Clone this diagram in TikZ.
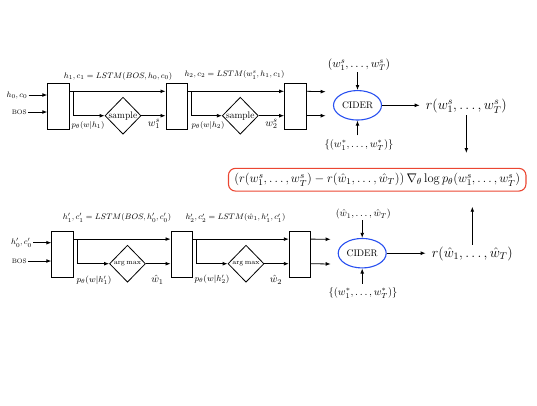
\documentclass[tikz,border=0pt]{standalone}
\usepackage{fix-cm}
\usepackage{amsmath}
\usetikzlibrary{shapes.geometric,arrows.meta,calc}
\definecolor{cblue}{RGB}{40,80,240}
\definecolor{cred}{RGB}{235,70,50}
\tikzset{
  blk/.style={draw, line width=0.8pt, minimum width=21.5pt, minimum height=46pt, inner sep=0pt},
  dia/.style={draw, diamond, line width=0.8pt, minimum width=36pt, minimum height=37pt, inner sep=0pt},
  arr/.style={-{Latex[length=5pt,width=3.8pt]}, line width=0.8pt},
  sm/.style={font=\fontsize{8}{9}\selectfont, inner sep=1pt},
  smp/.style={font=\fontsize{8.6}{10}\selectfont, inner sep=1pt},
  tiny7/.style={font=\fontsize{6.5}{8}\selectfont, inner sep=1pt},
  mid/.style={font=\fontsize{10.5}{12}\selectfont, inner sep=1pt},
  big/.style={font=\fontsize{14}{16}\selectfont, inner sep=2pt},
  cider/.style={draw=cblue, ellipse, line width=1.1pt, minimum width=48pt, minimum height=29.5pt, inner sep=0pt, font=\fontsize{9.5}{11}\selectfont},
  objbox/.style={draw=cred, rounded corners=7pt, line width=1.1pt, minimum width=297.5pt, minimum height=22.7pt, inner sep=0pt, font=\fontsize{12.5}{14}\selectfont},
}
\begin{document}
\begin{tikzpicture}[x=1pt,y=-1pt]
\useasboundingbox (0,0) rectangle (537,405);

% ---------- top row ----------
\node[blk] (b1) at (58.5,106.3) {};
\node[blk] (b2) at (176.7,106.3) {};
\node[blk] (b3) at (295.3,106.3) {};
\node[dia, label={center:\fontsize{9.5}{11}\selectfont sample}] (d1) at (123,115.7) {};
\node[dia, label={center:\fontsize{9.5}{11}\selectfont sample}] (d2) at (240.3,115.7) {};

\node[sm, anchor=east] (h0) at (28.5,95) {$h_0,c_0$};
\node[tiny7, anchor=east] (bos1) at (28,112) {BOS};
\draw[arr] (h0.east) -- (h0.east -| b1.west);
\draw[arr] (bos1.east) -- (bos1.east -| b1.west);

\node[sm] (t1) at (118,76) {$h_1,c_1=LSTM(BOS,h_0,c_0)$};
\node[sm] (t2) at (234.5,75) {$h_2,c_2=LSTM(w_1^s,h_1,c_1)$};

\draw[arr] ([yshift=-8.4pt]b1.north east) -- ([yshift=-8.4pt]b2.north west);
\draw[arr] ([xshift=3.5pt,yshift=-8.4pt]b1.north east) |- (d1.west);
\draw[arr] (d1.east) -- (d1.east -| b2.west);
\draw[arr] ([yshift=-8.4pt]b2.north east) -- ([yshift=-8.4pt]b3.north west);
\draw[arr] ([xshift=3.5pt,yshift=-8.4pt]b2.north east) |- (d2.west);
\draw[arr] (d2.east) -- (d2.east -| b3.west);

\node[sm] (p1) at (88,125) {$p_\theta(w|h_1)$};
\node[mid] (w1) at (154,124) {$w_1^s$};
\node[sm] (p2) at (208,125) {$p_\theta(w|h_2)$};
\node[mid] (w2) at (271.5,124) {$w_2^s$};

\coordinate (o1) at (325.7,91.7);
\coordinate (o2) at (325.7,115.7);
\draw[arr] ([yshift=-8.4pt]b3.north east) -- (o1);
\draw[arr] (b3.east |- d2) -- (o2);

\node[cider] (e1) at (357.5,105.3) {CIDER};
\node[font=\fontsize{11.5}{13}\selectfont, inner sep=1pt] (s1) at (359,65) {$(w_1^s,\dots,w_T^s)$};
\node[mid] (g1) at (359,145) {$\{(w_1^*,\dots,w_T^*)\}$};
\draw[arr] (e1.north |- s1.south) -- (e1.north);
\draw[arr] ([yshift=3pt]e1.south |- g1.north) -- (e1.south);

\node[big, anchor=west] (r1) at (423.7,106) {$r(w_1^s,\dots,w_T^s)$};
\draw[arr] (e1.east) -- ([xshift=-4pt]e1.east -| r1.west);
\coordinate (a1) at (466.7,153);
\draw[arr] (r1.south) -- (r1.south |- a1);

% ---------- objective ----------
\node[objbox] (obj) at (377.2,179.7) {$\left(r(w_1^s,\dots,w_T^s)-r(\hat w_1,\dots,\hat w_T)\right)\nabla_\theta\log p_\theta(w_1^s,\dots,w_T^s)$};

% ---------- bottom row ----------
\node[blk] (c1) at (62.5,254.2) {};
\node[blk] (c2) at (181.7,254.2) {};
\node[blk] (c3) at (300,254.2) {};
\node[dia, label={center:\fontsize{7}{8}\selectfont $\arg\max$}] (f1) at (127.5,263.7) {};
\node[dia, label={center:\fontsize{7}{8}\selectfont $\arg\max$}] (f2) at (246,263.7) {};

\node[sm, anchor=east] (h0b) at (33,242.7) {$h'_0,c'_0$};
\node[tiny7, anchor=east] (bos2) at (28,261) {BOS};
\draw[arr] (h0b.east) -- (h0b.east -| c1.west);
\draw[arr] (bos2.east) -- (bos2.east -| c1.west);

\node[sm] (u1) at (117,217.7) {$h'_1,c'_1=LSTM(BOS,h'_0,c'_0)$};
\node[sm] (u2) at (235.5,218) {$h'_2,c'_2=LSTM(\hat w_1,h'_1,c'_1)$};

\draw[arr] ([yshift=-8.3pt]c1.north east) -- ([yshift=-8.3pt]c2.north west);
\draw[arr] ([xshift=3.5pt,yshift=-8.3pt]c1.north east) |- (f1.west);
\draw[arr] (f1.east) -- (f1.east -| c2.west);
\draw[arr] ([yshift=-8.3pt]c2.north east) -- ([yshift=-8.3pt]c3.north west);
\draw[arr] ([xshift=3.5pt,yshift=-8.3pt]c2.north east) |- (f2.west);
\draw[arr] (f2.east) -- (f2.east -| c3.west);

\node[smp] (q1) at (94,280) {$p_\theta(w|h'_1)$};
\node[mid] (v1) at (157.5,280) {$\hat w_1$};
\node[smp] (q2) at (212,279) {$p_\theta(w|h'_2)$};
\node[mid] (v2) at (276,280) {$\hat w_2$};

\coordinate (o3) at (330.7,239.3);
\coordinate (o4) at (330.7,264);
\draw[arr] ([yshift=-8.3pt]c3.north east) -- (o3);
\draw[arr] (c3.east |- f2) -- (o4);

\node[cider] (e2) at (362.2,253.2) {CIDER};
\node[font=\fontsize{10}{12}\selectfont, inner sep=1pt] (s2) at (363.3,214) {$(\hat w_1,\dots,\hat w_T)$};
\node[mid] (g2) at (363,293.3) {$\{(w_1^*,\dots,w_T^*)\}$};
\draw[arr] (e2.north |- s2.south) -- (e2.north);
\draw[arr] ([yshift=3pt]e2.south |- g2.north) -- (e2.south);

\node[big, anchor=west] (r2) at (429.7,254) {$r(\hat w_1,\dots,\hat w_T)$};
\draw[arr] (e2.east) -- ([xshift=-4pt]e2.east -| r2.west);
\coordinate (a2) at (467.7,206.7);
\draw[arr] (r2.north) -- (r2.north |- a2);
\end{tikzpicture}
\end{document}
